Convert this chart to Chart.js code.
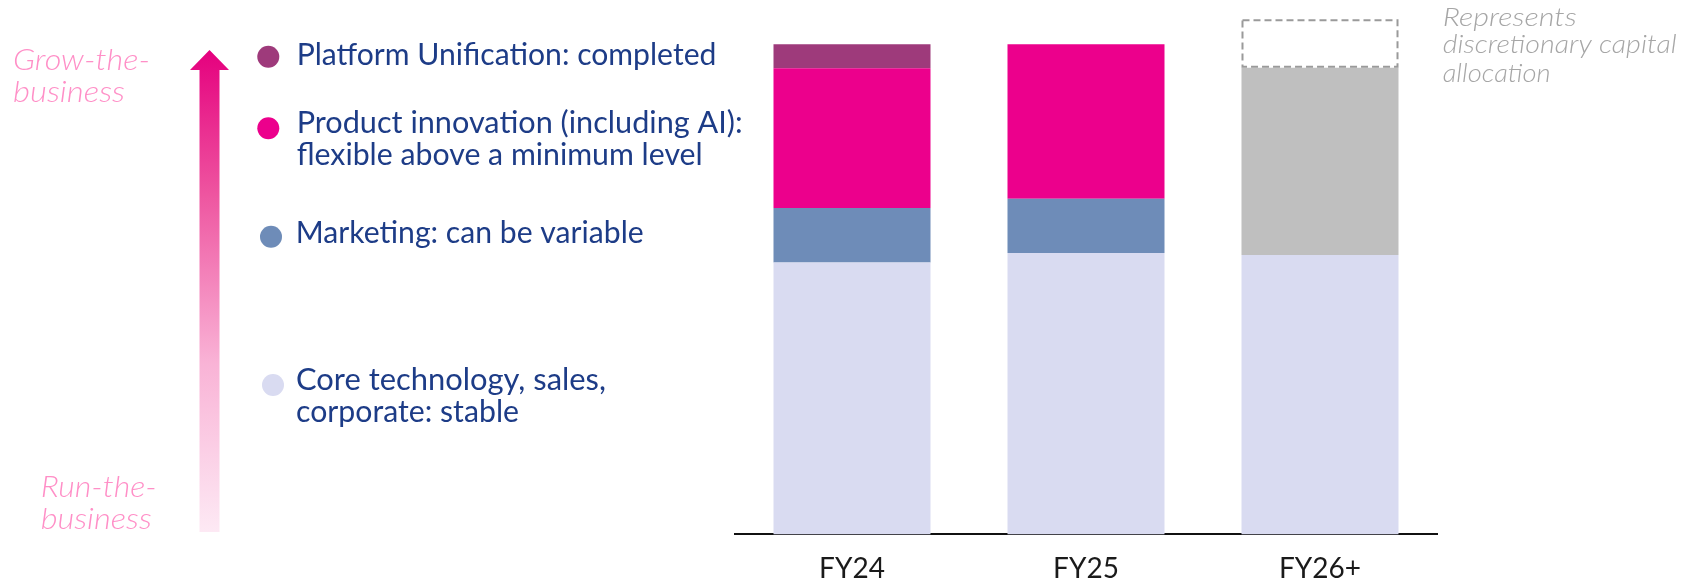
<!DOCTYPE html>
<html><head><meta charset="utf-8">
<script src="https://cdn.jsdelivr.net/npm/chart.js@4.4.1/dist/chart.umd.min.js"></script>
<style>html,body{margin:0;padding:0;background:#fff;} #wrap{width:1701px;height:584px;position:relative;}</style>
</head><body><div id="wrap"><canvas id="c"></canvas></div>
<script>
// ---- data ----
const categories = ['FY24', 'FY25', 'FY26+'];
const coreValues = [55.5, 57.4, 57.0];
const marketingValues = [11.1, 11.1, null];
const productValues = [28.5, 31.5, null];
const platformValues = [4.9, null, null];
const discretionaryValues = [null, null, 38.2];
const reserveValues = [null, null, 9.9];

const legendLabels = [
  ['Platform Unification: completed'],
  ['Product innovation (including AI):', 'flexible above a minimum level'],
  ['Marketing: can be variable'],
  ['Core technology, sales,', 'corporate: stable']
];
const growLabel = ['Grow-the-', 'business'];
const runLabel = ['Run-the-', 'business'];
const noteLabel = ['Represents', 'discretionary capital', 'allocation'];

// ---- styles / layout ----
const COLORS = {
  core: '#d9dbf1', marketing: '#6e8cb8', product: '#ec008c', platform: '#9e3a7b',
  discretionary: '#bfbfbf', dash: '#9a9a9a', text: '#1d3c87', pink: '#ff8fc7', note: '#a6a6a6'
};
const legendLayout = [
  {color: COLORS.platform, dot: [268.3, 56.7], lines: [[296.7, 64.5, 419.7]]},
  {color: COLORS.product, dot: [268.3, 128.3], lines: [[296.7, 133.3, 446], [296.7, 165, 406]]},
  {color: COLORS.marketing, dot: [271, 236.7], lines: [[295.7, 243.3, 348]]},
  {color: COLORS.core, dot: [273, 385], lines: [[296, 390, 310], [296, 421.7, 223]]}
];

function fitText(ctx, text, x, y, width) {
  const w = ctx.measureText(text).width;
  ctx.save();
  ctx.translate(x, y);
  ctx.scale(width / w, 1);
  ctx.fillText(text, 0, 0);
  ctx.restore();
}

const decorPlugin = {
  id: 'decor',
  afterDatasetsDraw(chart) {
    const ctx = chart.ctx;
    const meta = chart.getDatasetMeta(5);
    meta.data.forEach((bar, i) => {
      if (reserveValues[i] == null) return;
      const p = bar.getProps(['x', 'y', 'base', 'width'], true);
      const left = p.x - p.width / 2, top = Math.min(p.y, p.base), h = Math.abs(p.base - p.y);
      ctx.save();
      ctx.strokeStyle = COLORS.dash;
      ctx.lineWidth = 2;
      ctx.setLineDash([7, 4]);
      ctx.strokeRect(left + 1, top + 1, p.width - 2, h - 2);
      ctx.restore();
    });
  },
  afterDraw(chart) {
    const ctx = chart.ctx;
    ctx.save();
    // gradient arrow
    const g = ctx.createLinearGradient(0, 50, 0, 532);
    g.addColorStop(0, '#e5007e');
    g.addColorStop(0.3, '#ee55a0');
    g.addColorStop(0.65, '#f9b3d6');
    g.addColorStop(1, '#fde9f4');
    ctx.fillStyle = g;
    ctx.beginPath();
    ctx.moveTo(209.5, 50);
    ctx.lineTo(229, 70);
    ctx.lineTo(219.5, 70);
    ctx.lineTo(219.5, 532);
    ctx.lineTo(199.5, 532);
    ctx.lineTo(199.5, 70);
    ctx.lineTo(190, 70);
    ctx.closePath();
    ctx.fill();

    // pink side labels
    ctx.fillStyle = COLORS.pink;
    ctx.font = 'italic 300 29px Lato';
    ctx.textBaseline = 'alphabetic';
    ctx.textAlign = 'left';
    fitText(ctx, growLabel[0], 13, 70, 137);
    fitText(ctx, growLabel[1], 13, 101.7, 112);
    fitText(ctx, runLabel[0], 40.7, 496.7, 116);
    fitText(ctx, runLabel[1], 40.7, 529, 111);

    // legend
    legendLayout.forEach((item, k) => {
      ctx.fillStyle = item.color;
      ctx.beginPath();
      ctx.arc(item.dot[0], item.dot[1], 11, 0, Math.PI * 2);
      ctx.fill();
      ctx.fillStyle = COLORS.text;
      ctx.font = '400 30px Lato';
      item.lines.forEach((ln, j) => fitText(ctx, legendLabels[k][j], ln[0], ln[1], ln[2]));
    });

    // note
    ctx.fillStyle = COLORS.note;
    ctx.font = 'italic 300 26px Lato';
    fitText(ctx, noteLabel[0], 1442.7, 26, 134);
    fitText(ctx, noteLabel[1], 1442.7, 53.3, 234);
    fitText(ctx, noteLabel[2], 1442.7, 81.7, 108);
    ctx.restore();
  }
};

const common = {borderWidth: 0, barPercentage: 1, categoryPercentage: 0.671};
new Chart(document.getElementById('c'), {
  type: 'bar',
  data: {
    labels: categories,
    datasets: [
      Object.assign({label: 'Core', data: coreValues, backgroundColor: COLORS.core}, common),
      Object.assign({label: 'Marketing', data: marketingValues, backgroundColor: COLORS.marketing}, common),
      Object.assign({label: 'Product', data: productValues, backgroundColor: COLORS.product}, common),
      Object.assign({label: 'Platform', data: platformValues, backgroundColor: COLORS.platform}, common),
      Object.assign({label: 'Discretionary', data: discretionaryValues, backgroundColor: COLORS.discretionary}, common),
      Object.assign({label: 'Reserve', data: reserveValues, backgroundColor: 'rgba(255,255,255,0)'}, common)
    ]
  },
  options: {
    responsive: true,
    maintainAspectRatio: false,
    animation: false,
    events: [],
    layout: {padding: {left: 735, right: 264, top: 10, bottom: -20}},
    plugins: {legend: {display: false}, tooltip: {enabled: false}},
    scales: {
      x: {
        stacked: true,
        grid: {display: false, drawTicks: false},
        border: {display: true, color: '#111', width: 2},
        ticks: {color: '#1a1a1a', font: {family: 'Lato', size: 28}, padding: 18}
      },
      y: {stacked: true, display: false, min: 0, max: 107}
    }
  },
  plugins: [decorPlugin]
});
</script>
</body></html>
